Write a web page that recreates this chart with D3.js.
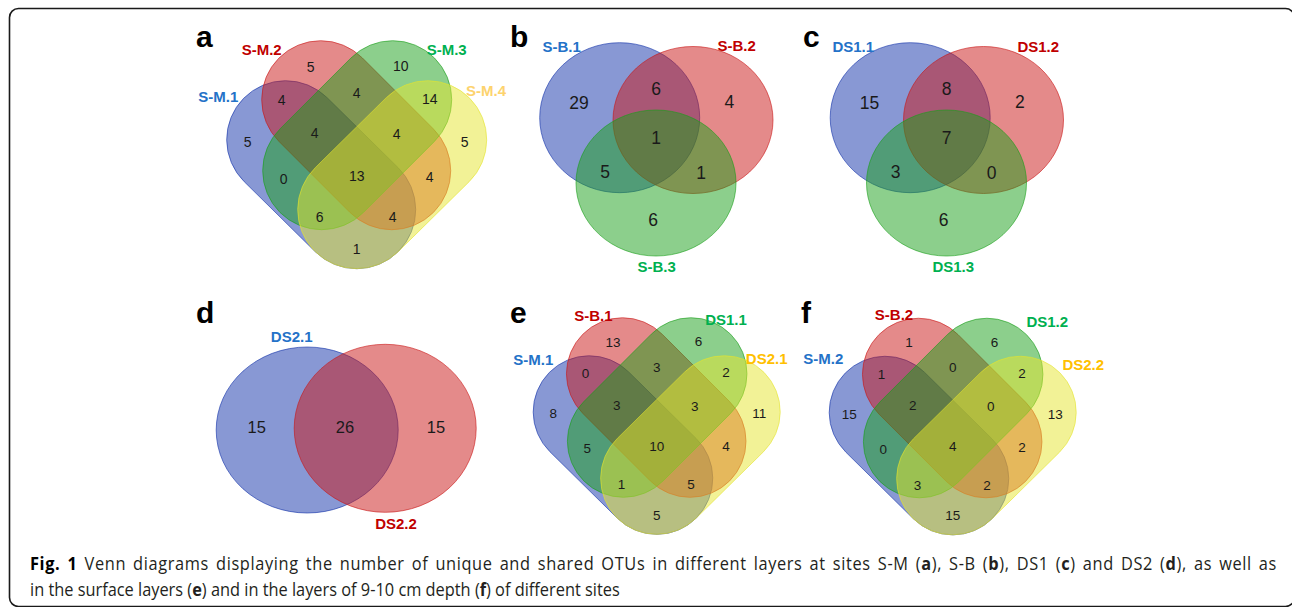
<!DOCTYPE html>
<html lang="en">
<head>
<meta charset="UTF-8">
<title>Fig. 1 Venn diagrams</title>
<script src="https://cdn.jsdelivr.net/npm/d3@7"></script>
<style>
  body { margin: 0; background: #fff; }
  svg { display: block; }
  .num { font-family: "Liberation Sans", Arial, sans-serif; fill: #1a1a1a; text-anchor: middle; dominant-baseline: central; }
  .setlab { font-family: "Liberation Sans", Arial, sans-serif; font-weight: bold; font-size: 15px; text-anchor: middle; dominant-baseline: central; }
  .letter { font-family: "Liberation Sans", Arial, sans-serif; font-weight: bold; font-size: 30px; fill: #000; }
  .caption { font-family: "Open Sans", sans-serif; font-size: 18.5px; fill: #231f20; }
</style>
</head>
<body>
<svg id="fig" width="1292" height="607"></svg>
<script>
// ---- data ----
const setsA = ["S-M.1", "S-M.2", "S-M.3", "S-M.4"];
const setsB = ["S-B.1", "S-B.2", "S-B.3"];
const setsC = ["DS1.1", "DS1.2", "DS1.3"];
const setsD = ["DS2.1", "DS2.2"];
const setsE = ["S-M.1", "S-B.1", "DS1.1", "DS2.1"];
const setsF = ["S-M.2", "S-B.2", "DS1.2", "DS2.2"];

// region keys (which sets a region belongs to)
const regions4 = ["1", "2", "3", "4", "12", "23", "34", "123", "234", "13", "1234", "24", "134", "124", "14"];
const regions3 = ["1", "12", "2", "123", "13", "23", "3"];
const regions2 = ["1", "12", "2"];

const countsA = [5, 5, 10, 5, 4, 4, 14, 4, 4, 0, 13, 4, 6, 4, 1];
const countsB = [29, 6, 4, 1, 5, 1, 6];
const countsC = [15, 8, 2, 7, 3, 0, 6];
const countsD = [15, 26, 15];
const countsE = [8, 13, 6, 11, 0, 3, 2, 3, 3, 5, 10, 4, 1, 5, 5];
const countsF = [15, 1, 6, 13, 1, 0, 2, 2, 0, 0, 4, 2, 3, 2, 15];

const panelLetters = ["a", "b", "c", "d", "e", "f"];

// ---- styles ----
const fillCols = ["#1131a9", "#c91515", "#199f19", "#e5e52d"];
const labelCols = ["#2472c8", "#c00000", "#00b050", "#ffc000"];
const labelColsA = ["#2472c8", "#c00000", "#00b050", "#fdd36e"]; // S-M.4 is paler in panel a

// ---- layout (diagram geometry, local units) ----
const geo4 = {
  r: 59,
  shapes: [[[-71, -36], [0, 34]], [[-36, -76], [35, -5]], [[36, -76], [-35, -5]], [[71, -36], [0, 34]]],
  pos: {"1": [-109, -34], "2": [-46, -109], "3": [44, -110], "4": [108, -34], "12": [-75, -76], "23": [0, -83],
        "34": [73, -77], "123": [-42, -43], "234": [40, -42], "13": [-73, 3], "1234": [0, 0], "24": [73, 1],
        "134": [-37, 41], "124": [36, 41], "14": [0, 73]}
};
const geo3 = {
  ell: [[-36.3, -20.6, 80, 75], [37, -18.3, 80, 73.5], [0, 44.7, 80, 73]],
  pos: {"1": [-77, -35.5], "12": [0, -49.5], "2": [73.4, -36], "123": [0, -0.5], "13": [-51, 33.4], "23": [45, 34.4], "3": [-3, 81.4]}
};
const geo2 = {
  ell: [[-37.8, 3, 91, 83], [40.2, 1.3, 91, 84]],
  pos: {"1": [-88.3, 0.3], "12": [0, -0.3], "2": [91, 0.3]}
};

const svg = d3.select("#fig");

// frame
svg.append("rect")
  .attr("x", 9.5).attr("y", 8.5)
  .attr("width", 1285).attr("height", 598)
  .attr("rx", 9)
  .attr("fill", "none").attr("stroke", "#1a1a1a").attr("stroke-width", 1.6);

function scales(cx, cy, k) {
  return {
    x: d3.scaleLinear().domain([0, 1]).range([cx, cx + k]),
    y: d3.scaleLinear().domain([0, 1]).range([cy, cy + k]),
    k: k
  };
}

function stadium(p1, p2, r) {
  const a = Math.atan2(p2[1] - p1[1], p2[0] - p1[0]);
  const p = d3.path();
  p.arc(p1[0], p1[1], r, a + Math.PI / 2, a + 3 * Math.PI / 2);
  p.arc(p2[0], p2[1], r, a - Math.PI / 2, a + Math.PI / 2);
  p.closePath();
  return p.toString();
}

function drawNums(g, s, regions, counts, pos, size) {
  g.selectAll("text.num").data(regions).join("text")
    .attr("class", "num")
    .attr("x", d => s.x(pos[d][0]))
    .attr("y", d => s.y(pos[d][1]))
    .attr("font-size", size)
    .text((d, i) => counts[i]);
}

function drawSetLabels(g, s, names, offs, cols) {
  g.selectAll("text.setlab").data(names).join("text")
    .attr("class", "setlab")
    .attr("x", (d, i) => s.x(0) + offs[i][0])
    .attr("y", (d, i) => s.y(0) + offs[i][1])
    .attr("fill", (d, i) => cols[i])
    .text(d => d);
}

function venn4(cx, cy, k, names, counts, offs, size, cols) {
  const s = scales(cx, cy, k);
  const g = svg.append("g");
  g.selectAll("path").data(geo4.shapes).join("path")
    .attr("d", d => stadium([s.x(d[0][0]), s.y(d[0][1])], [s.x(d[1][0]), s.y(d[1][1])], geo4.r * k))
    .attr("fill", (d, i) => fillCols[i]).attr("fill-opacity", 0.5)
    .attr("stroke", (d, i) => fillCols[i]).attr("stroke-opacity", 0.6).attr("stroke-width", 1);
  drawNums(g, s, regions4, counts, geo4.pos, size);
  drawSetLabels(g, s, names, offs, cols || labelCols);
}

function vennEll(cx, cy, k, geo, regions, names, counts, offs, size) {
  const s = scales(cx, cy, k);
  const g = svg.append("g");
  g.selectAll("ellipse").data(geo.ell).join("ellipse")
    .attr("cx", d => s.x(d[0])).attr("cy", d => s.y(d[1]))
    .attr("rx", d => d[2] * k).attr("ry", d => d[3] * k)
    .attr("fill", (d, i) => fillCols[i]).attr("fill-opacity", 0.5)
    .attr("stroke", (d, i) => fillCols[i]).attr("stroke-opacity", 0.6).attr("stroke-width", 1);
  drawNums(g, s, regions, counts, geo.pos, size);
  drawSetLabels(g, s, names, offs, labelCols);
}

venn4(356.7, 175.7, 1, setsA, countsA, [[-138.4, -79], [-95, -126.4], [90, -126.4], [129.3, -85]], 14, labelColsA);
vennEll(656, 138.3, 1, geo3, regions3, setsB, countsB, [[-94.3, -92.3], [80.7, -93.3], [0.7, 128.4]], 17.5);
vennEll(946.5, 138.3, 1, geo3, regions3, setsC, countsC, [[-93.2, -91.6], [91.8, -91.6], [6.8, 127.7]], 17.5);
vennEll(345, 427, 1, geo2, regions2, setsD, countsD, [[-53.3, -91], [51, 96.3]], 16.5);
venn4(656.7, 446, 0.95, setsE, countsE, [[-123.4, -86.7], [-63.4, -131], [69.3, -126.7], [110, -87.7]], 13.5);
venn4(952.7, 446.5, 0.95, setsF, countsF, [[-129.4, -88.2], [-58.7, -132.5], [94.6, -124.8], [130.6, -82.5]], 13.5);

// panel letters
const letterPos = [[196, 47], [510, 47], [803, 47], [196, 323], [510, 323], [801, 323]];
svg.selectAll("text.letter").data(panelLetters).join("text")
  .attr("class", "letter")
  .attr("x", (d, i) => letterPos[i][0])
  .attr("y", (d, i) => letterPos[i][1])
  .text(d => d);

// caption (condensed, first line justified)
const line1 = [["Fig. 1", true], [" Venn diagrams displaying the number of unique and shared OTUs in different layers at sites S-M (", false],
  ["a", true], ["), S-B (", false], ["b", true], ["), DS1 (", false], ["c", true], [") and DS2 (", false], ["d", true], ["), as well as", false]];
const line2 = [["in the surface layers (", false], ["e", true], [") and in the layers of 9-10 cm depth (", false], ["f", true], [") of different sites", false]];

const cap = svg.append("g");
function capLine(parts, y) {
  const t = cap.append("text").attr("class", "caption").attr("x", 0).attr("y", y);
  parts.forEach(p => {
    t.append("tspan").attr("font-weight", p[1] ? "bold" : null)
      .attr("fill", p[0] === "Fig. 1" ? "#000" : null).text(p[0]);
  });
  return t;
}
const c1 = capLine(line1, 570.5);
const c2 = capLine(line2, 596.5);
const sx = 590 / c2.node().getComputedTextLength();
cap.attr("transform", `translate(30,0) scale(${sx},1)`);
const full1 = line1.map(p => p[0]).join("");
const need = 1247 / sx - c1.node().getComputedTextLength();
const spaces = full1.split(" ").length - 1;
c1.attr("letter-spacing", need * 0.6 / full1.length)
  .attr("word-spacing", need * 0.4 / spaces);
</script>
</body>
</html>
